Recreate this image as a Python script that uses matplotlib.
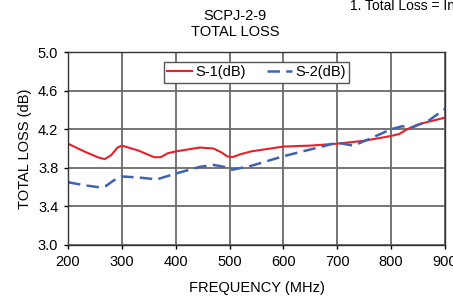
import numpy as np
import matplotlib
matplotlib.use('Agg')
import matplotlib.pyplot as plt

plt.rcParams['font.family'] = ['Liberation Sans', 'DejaVu Sans']

# frequency (MHz) and loss (dB)
freq_s1 = [200, 230, 255, 268, 280, 292, 300, 330, 360, 372, 385, 400, 445, 470, 485, 495, 505, 520, 540, 600, 650, 700, 750, 800, 815, 830, 850, 900]
loss_s1 = [4.05, 3.97, 3.91, 3.89, 3.93, 4.01, 4.03, 3.98, 3.91, 3.91, 3.95, 3.97, 4.01, 4.00, 3.96, 3.92, 3.91, 3.94, 3.97, 4.02, 4.03, 4.05, 4.08, 4.13, 4.15, 4.20, 4.25, 4.32]

freq_s2 = [200, 230, 255, 270, 285, 300, 330, 365, 400, 445, 470, 490, 505, 540, 600, 650, 700, 730, 760, 800, 820, 840, 870, 900]
loss_s2 = [3.65, 3.62, 3.60, 3.61, 3.67, 3.71, 3.70, 3.68, 3.74, 3.81, 3.83, 3.81, 3.78, 3.82, 3.92, 3.99, 4.06, 4.03, 4.10, 4.20, 4.23, 4.22, 4.29, 4.41]

xticks = [200, 300, 400, 500, 600, 700, 800, 900]
yticks = [3.0, 3.4, 3.8, 4.2, 4.6, 5.0]

fig = plt.figure(figsize=(4.53, 3.01), dpi=100)
ax = fig.add_axes([68/453, 1-245/301, 377/453, 193/301])

ax.plot(freq_s1, loss_s1, color='#e8202a', lw=1.5, label='S-1(dB)')
ax.plot(freq_s2, loss_s2, color='#4062b0', lw=1.8, ls=(0, (5, 2.5)), label='S-2(dB)')

ax.set_xlim(200, 900)
ax.set_ylim(3.0, 5.0)
ax.set_xticks(xticks)
ax.set_yticks(yticks)
ax.set_yticklabels(['%.1f' % v for v in yticks])
ax.grid(True, color='#6a6a6a', lw=1.3)
ax.set_axisbelow(True)
ax.tick_params(labelsize=10.5, length=3, width=1, colors='black', pad=4)
for sp in ax.spines.values():
    sp.set_color('#333333')
    sp.set_linewidth(1.0)

ax.set_xlabel('FREQUENCY (MHz)', fontsize=10.5, labelpad=9)
ax.set_ylabel('TOTAL LOSS (dB)', fontsize=10.5, labelpad=4)

leg = ax.legend(loc='upper center', bbox_to_anchor=(0.5, 0.95), ncol=2, fontsize=10.5,
                frameon=True, fancybox=False, edgecolor='#555555', framealpha=1,
                handlelength=1.7, columnspacing=1.4, borderpad=0.25, handletextpad=0.25,
                borderaxespad=0)
leg.get_frame().set_linewidth(1.0)

fig.text(235/453, 1-24/301, 'SCPJ-2-9\nTOTAL LOSS', ha='center', va='center', fontsize=10.5, linespacing=1.25)
fig.text(350/453, 1-6/301, '1. Total Loss = Insertion Loss', ha='left', va='center', fontsize=10)

fig.savefig('out.png', dpi=100)
